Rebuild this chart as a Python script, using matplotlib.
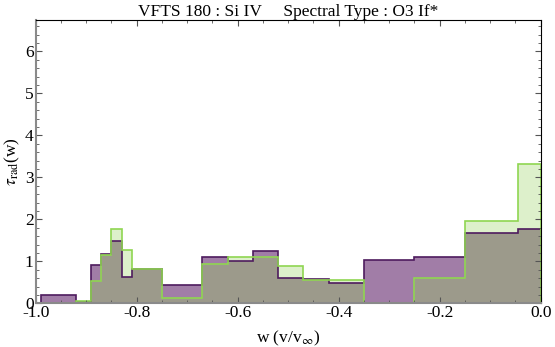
import numpy as np
import matplotlib
matplotlib.use('Agg')
import matplotlib.pyplot as plt
from matplotlib.ticker import MultipleLocator, FormatStrFormatter

# bin edges in w (v/v_inf)
edges = [-0.99, -0.92, -0.89, -0.87, -0.85, -0.83, -0.81, -0.75, -0.67, -0.62,
         -0.57, -0.52, -0.47, -0.42, -0.35, -0.25, -0.15, -0.045, 0.0]
# tau_rad per bin
tau_purple = [0.20, 0.04, 0.91, 1.17, 1.48, 0.63, 0.81, 0.44, 1.10, 1.01,
              1.25, 0.60, 0.58, 0.49, 1.03, 1.11, 1.67, 1.78]
tau_green = [0.0, 0.06, 0.54, 1.14, 1.76, 1.27, 0.81, 0.12, 0.94, 1.11,
             1.11, 0.90, 0.55, 0.55, 0.0, 0.60, 1.96, 3.32]

plt.rcParams['font.family'] = ['Liberation Serif', 'DejaVu Serif']
plt.rcParams['mathtext.fontset'] = 'stix'

fig = plt.figure(figsize=(5.55, 3.47), dpi=100)
ax = fig.add_axes([0.0643, 0.1259, 0.910, 0.8156])

p = np.array(tau_purple)
g = np.array(tau_green)
ax.stairs(p, edges, fill=True, color='#a17da7', baseline=0)
ax.stairs(g, edges, fill=True, color='#ddf0cb', baseline=0)
ax.stairs(np.minimum(p, g), edges, fill=True, color='#9c9a8b', baseline=0)
ax.stairs(p, edges, color='#4e1b5e', lw=1.2, baseline=0)
ax.stairs(g, edges, color='#8fd651', lw=1.2, baseline=0)

ax.set_xlim(-1.0, 0.0)
ax.set_ylim(0, 6.74)

ax.xaxis.set_major_locator(MultipleLocator(0.2))
ax.xaxis.set_minor_locator(MultipleLocator(0.05))
ax.xaxis.set_major_formatter(FormatStrFormatter('%.1f'))
ax.yaxis.set_major_locator(MultipleLocator(1))
ax.yaxis.set_minor_locator(MultipleLocator(0.2))
ax.tick_params(which='both', direction='in', top=True, right=True,
               labelsize=12.5, pad=1.5, color='#555555')
ax.tick_params(which='major', length=4, width=0.8)
ax.tick_params(which='minor', length=2, width=0.6)

for s in ['left', 'bottom']:
    ax.spines[s].set_color('#8a8a8a')
    ax.spines[s].set_linewidth(1.5)
for s in ['top', 'right']:
    ax.spines[s].set_color('black')
    ax.spines[s].set_linewidth(0.8)

ax.set_title('VFTS 180 : Si IV     Spectral Type : O3 If*', fontsize=12.5, pad=2)
ax.set_xlabel(r'w (v/v$_{\infty}$)', fontsize=12.5, labelpad=5)
ax.set_ylabel(r'$\tau_{\mathrm{rad}}$(w)', fontsize=12.5, labelpad=2)

fig.savefig('out.png', dpi=100)
